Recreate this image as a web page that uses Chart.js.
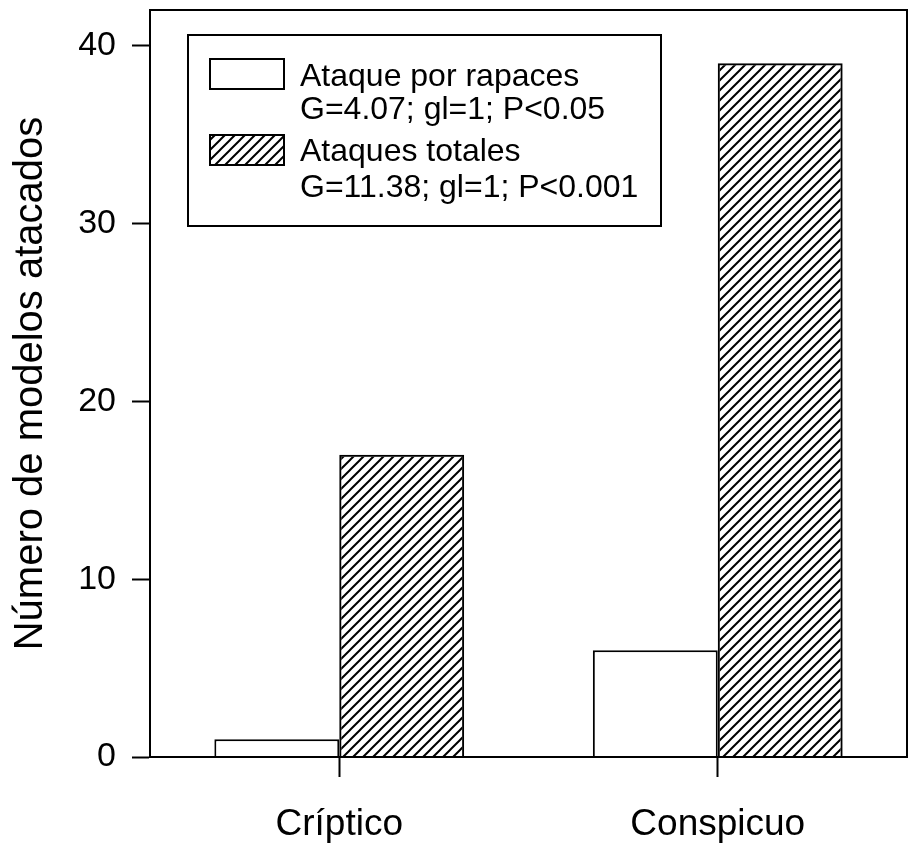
<!DOCTYPE html>
<html>
<head>
<meta charset="utf-8">
<script src="https://cdn.jsdelivr.net/npm/chart.js@4/dist/chart.umd.min.js"></script>
<style>
  body { margin: 0; background: #fff; }
</style>
</head>
<body>
<canvas id="graficaAtaques" width="916" height="853"></canvas>
<script>
const categorias = ["Críptico", "Conspicuo"];
const ataqueRapaces = [1, 6];
const ataquesTotales = [17, 39];
const nombresSeries = ["Ataque por rapaces", "Ataques totales"];
const estadisticos = ["G=4.07; gl=1; P<0.05", "G=11.38; gl=1; P<0.001"];
const ticksY = [0, 10, 20, 30, 40];

const fuente = "'Liberation Sans', Arial, sans-serif";

// relleno rayado "/" para la segunda serie
function crearRayado() {
    const c = document.createElement("canvas");
    c.width = 10;
    c.height = 10;
    const g = c.getContext("2d");
    g.strokeStyle = "#000";
    g.lineWidth = 2;
    g.beginPath();
    g.moveTo(0, 10); g.lineTo(10, 0);
    g.moveTo(-5, 5); g.lineTo(5, -5);
    g.moveTo(5, 15); g.lineTo(15, 5);
    g.stroke();
    return g.createPattern(c, "repeat");
}

// ======================
// MARCO + LEYENDA
// ======================
const marco = {
    id: "marco",
    afterDraw(chart) {
        const ctx = chart.ctx;
        const a = chart.chartArea;
        ctx.save();
        ctx.strokeStyle = "#000";
        ctx.lineWidth = 2;
        ctx.strokeRect(a.left, a.top, a.right - a.left, a.bottom - a.top);
        ctx.restore();
    }
};

const leyenda = {
    id: "leyenda",
    afterDraw(chart) {
        const ctx = chart.ctx;
        const a = chart.chartArea;
        const x0 = a.left + 38, y0 = a.top + 25;
        ctx.save();
        ctx.fillStyle = "#fff";
        ctx.fillRect(x0, y0, 473, 191);
        ctx.strokeStyle = "#000";
        ctx.lineWidth = 2;
        ctx.strokeRect(x0, y0, 473, 191);

        const filas = [24, 100];
        chart.data.datasets.forEach((ds, i) => {
            ctx.fillStyle = ds.backgroundColor;
            ctx.fillRect(x0 + 22, y0 + filas[i], 74, 30);
            ctx.strokeRect(x0 + 22, y0 + filas[i], 74, 30);
        });

        ctx.fillStyle = "#000";
        ctx.font = "32px " + fuente;
        ctx.textBaseline = "alphabetic";
        ctx.fillText(nombresSeries[0], x0 + 112, y0 + 51);
        ctx.fillText(estadisticos[0], x0 + 112, y0 + 84);
        ctx.fillText(nombresSeries[1], x0 + 112, y0 + 126);
        ctx.fillText(estadisticos[1], x0 + 112, y0 + 162);
        ctx.restore();
    }
};

const ctx = document.getElementById("graficaAtaques").getContext("2d");

new Chart(ctx, {
    type: "bar",
    data: {
        labels: categorias,
        datasets: [
            {
                label: nombresSeries[0],
                data: ataqueRapaces,
                backgroundColor: "#fff",
                borderColor: "#000",
                borderWidth: 2
            },
            {
                label: nombresSeries[1],
                data: ataquesTotales,
                backgroundColor: crearRayado(),
                borderColor: "#000",
                borderWidth: 2
            }
        ]
    },
    options: {
        responsive: false,
        animation: false,
        categoryPercentage: 0.66,
        barPercentage: 1.0,
        layout: { padding: { top: 10, right: 9, left: 0, bottom: 0 } },
        plugins: {
            legend: { display: false },
            tooltip: { enabled: false }
        },
        scales: {
            x: {
                grid: {
                    drawOnChartArea: false,
                    drawTicks: true,
                    tickLength: 20,
                    tickWidth: 2,
                    color: "#000",
                    offset: false
                },
                border: { display: true, color: "#000", width: 2 },
                ticks: { color: "#000", font: { size: 37, family: fuente }, padding: 26 },
                afterFit: s => {
                    s.height = 96;
                    s.paddingLeft = 0;
                    s.paddingRight = 0;
                }
            },
            y: {
                min: 0,
                max: 42,
                afterBuildTicks: s => { s.ticks = ticksY.map(v => ({ value: v })); },
                grid: {
                    drawOnChartArea: false,
                    tickLength: 18,
                    tickWidth: 2,
                    color: "#000"
                },
                border: { display: true, color: "#000", width: 2 },
                ticks: { color: "#000", font: { size: 34, family: fuente }, padding: 16 },
                title: {
                    display: true,
                    text: "Número de modelos atacados",
                    color: "#000",
                    font: { size: 40, family: fuente },
                    padding: { top: 7, bottom: 0 }
                },
                afterFit: s => {
                    s.width = 150;
                    s.paddingTop = 0;
                    s.paddingBottom = 0;
                }
            }
        }
    },
    plugins: [marco, leyenda]
});
</script>
</body>
</html>
